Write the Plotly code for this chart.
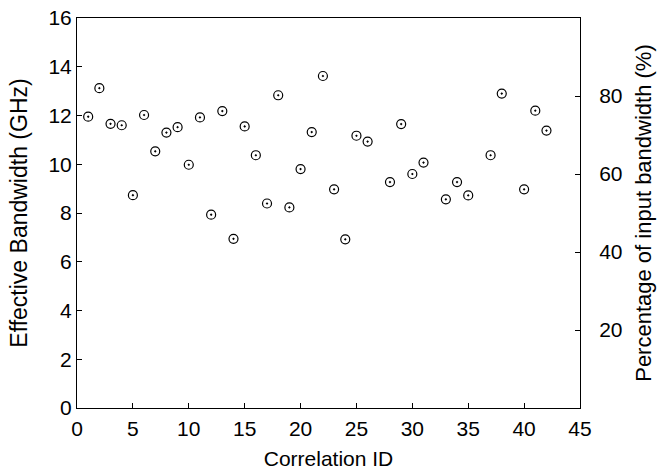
import plotly.graph_objects as go

correlation_id = [1, 2, 3, 4, 5, 6, 7, 8, 9, 10, 11, 12, 13, 14, 15, 16, 17, 18, 19, 20,
                  21, 22, 23, 24, 25, 26, 28, 29, 30, 31, 33, 34, 35, 37, 38, 40, 41, 42]
bandwidth_ghz = [11.95, 13.12, 11.66, 11.6, 8.73, 12.02, 10.53, 11.3, 11.52, 9.98,
                 11.92, 7.93, 12.18, 6.94, 11.55, 10.37, 8.39, 12.83, 8.23, 9.8,
                 11.32, 13.62, 8.97, 6.92, 11.17, 10.93, 9.27, 11.65, 9.6, 10.07,
                 8.56, 9.27, 8.72, 10.37, 12.9, 8.97, 12.2, 11.38]
input_bandwidth_ghz = 16.0
percent = [v / input_bandwidth_ghz * 100 for v in bandwidth_ghz]

family = "Liberation Sans, Arial, sans-serif"
tick_font = dict(family=family, size=21, color="black")
xtitle_font = dict(family=family, size=21, color="black")
ltitle_font = dict(family=family, size=23, color="black")
rtitle_font = dict(family=family, size=22, color="black")

fig = go.Figure()
fig.add_trace(go.Scatter(
    x=correlation_id, y=bandwidth_ghz, mode="markers",
    marker=dict(symbol="circle-open-dot", size=9, color="black", line=dict(width=1.2, color="black")),
    showlegend=False))
fig.add_trace(go.Scatter(
    x=correlation_id, y=percent, mode="markers", yaxis="y2",
    marker=dict(opacity=0), hoverinfo="skip", showlegend=False))

fig.update_layout(
    width=660, height=473,
    margin=dict(l=77, r=80, t=18, b=65),
    paper_bgcolor="white", plot_bgcolor="white",
    font=tick_font,
    xaxis=dict(range=[0, 45], tickvals=list(range(0, 50, 5)), ticks="inside", ticklen=5,
               tickcolor="black", showline=True, linecolor="black", linewidth=1, mirror=True,
               showgrid=False, zeroline=False, automargin=False, ticklabeloverflow="allow",
               ticklabelstandoff=2, tickfont=tick_font,
               title=dict(text="Correlation ID", font=xtitle_font, standoff=12)),
    yaxis=dict(range=[0, 16], tickvals=list(range(0, 18, 2)), ticks="inside", ticklen=5,
               tickcolor="black", showline=True, linecolor="black", linewidth=1,
               showgrid=False, zeroline=False, automargin=False, ticklabeloverflow="allow",
               tickfont=tick_font,
               title=dict(text="Effective Bandwidth (GHz)", font=ltitle_font, standoff=14)),
    yaxis2=dict(range=[0, 100], tickvals=[20, 40, 60, 80], ticks="inside", ticklen=5,
                tickcolor="black", showline=True, linecolor="black", linewidth=1,
                overlaying="y", side="right", showgrid=False, zeroline=False, automargin=False,
                ticklabelstandoff=14, ticklabeloverflow="allow", tickfont=tick_font,
                title=dict(text="Percentage of input bandwidth (%)", font=rtitle_font, standoff=14)),
)

fig.write_html("out.html", config={"displayModeBar": False},
               post_script="document.body.style.margin='0';")
